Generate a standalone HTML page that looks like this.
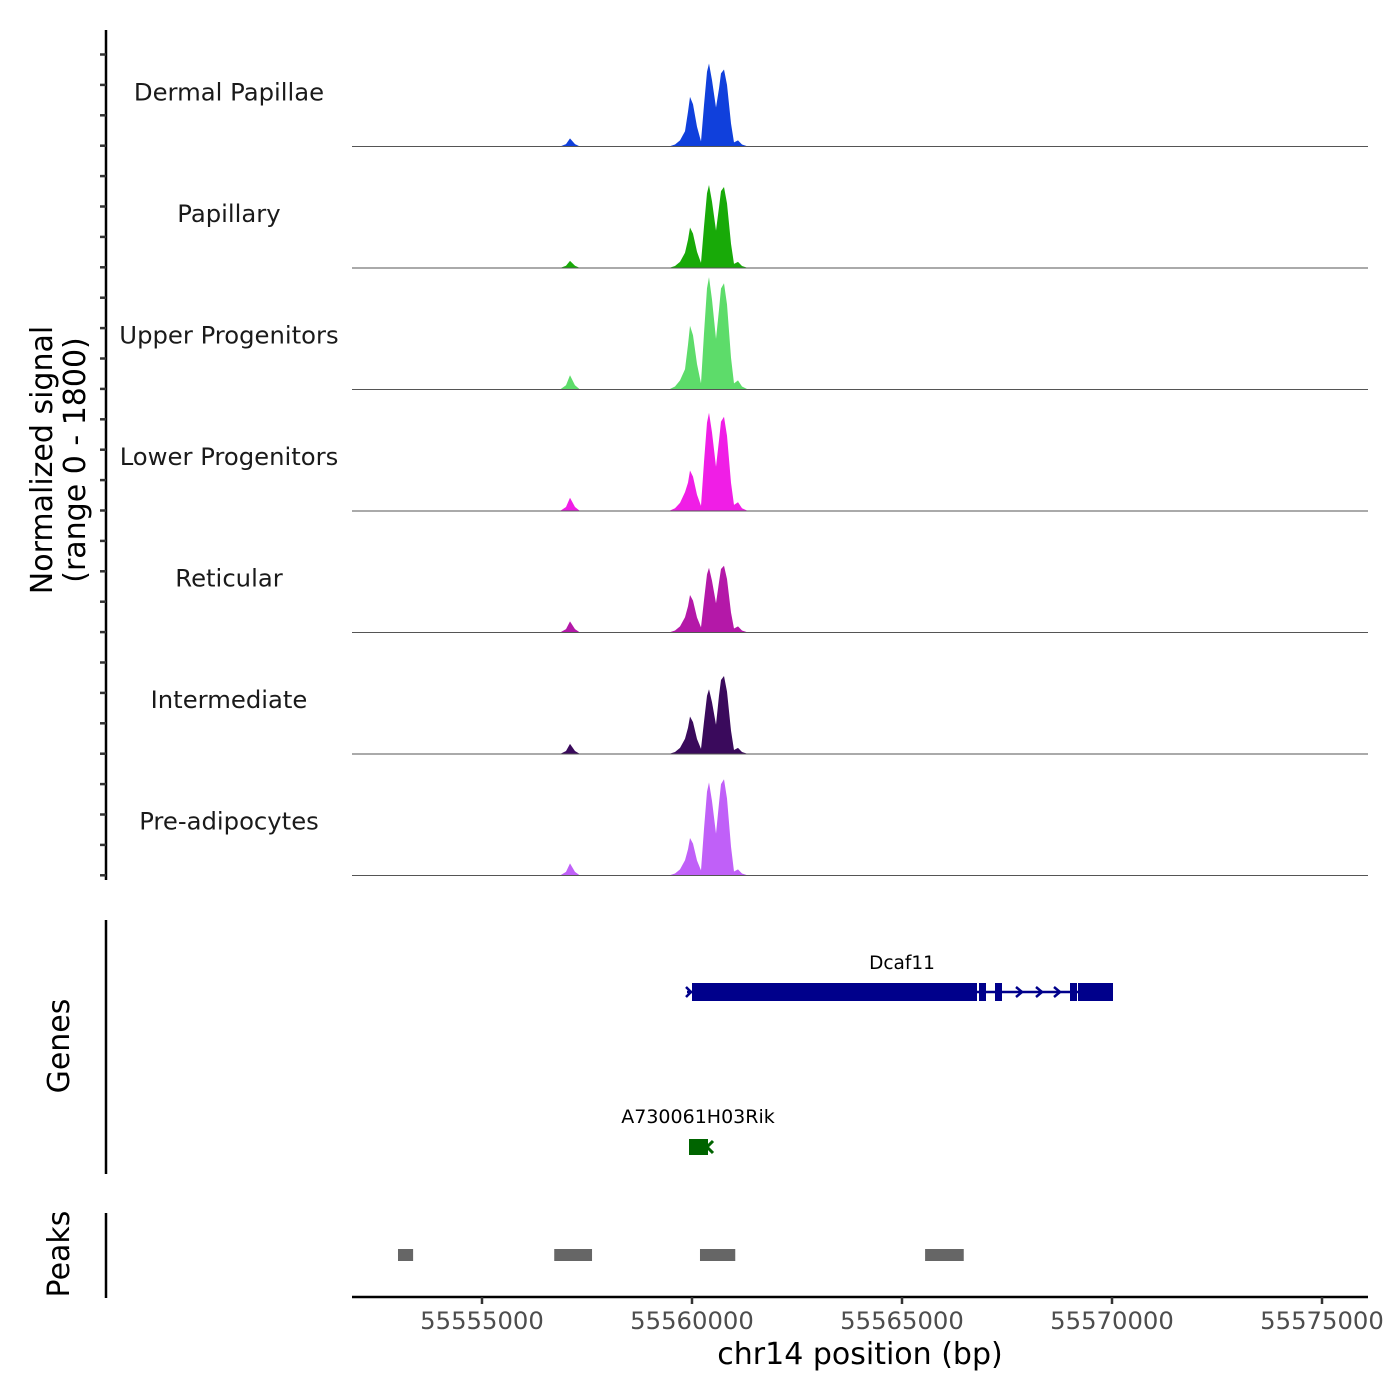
<!DOCTYPE html>
<html><head><meta charset="utf-8"><style>
html,body{margin:0;padding:0;background:#fff;}
svg{display:block;font-family:"DejaVu Sans","Liberation Sans",sans-serif;}
</style></head><body>
<svg id="chart" width="1400" height="1400" viewBox="0 0 1400 1400" xmlns="http://www.w3.org/2000/svg">
<g id="tracks"></g>
<g id="yaxis"></g>
<text transform="translate(52,460) rotate(-90)" text-anchor="middle" font-size="30" fill="#000">Normalized signal</text>
<text transform="translate(85,460) rotate(-90)" text-anchor="middle" font-size="30" fill="#000">(range 0 - 1800)</text>
<line x1="106" y1="920" x2="106" y2="1174" stroke="#000" stroke-width="2.5"/>
<text transform="translate(69,1046) rotate(-90)" text-anchor="middle" font-size="30">Genes</text>
<g id="genes"></g>
<line x1="106" y1="1213" x2="106" y2="1298" stroke="#000" stroke-width="2.5"/>
<text transform="translate(69,1254) rotate(-90)" text-anchor="middle" font-size="30">Peaks</text>
<g id="peaks"></g>
<g id="xaxis"></g>
<text x="860" y="1364" text-anchor="middle" font-size="30">chr14 position (bp)</text>
</svg>
<script>
const regionStart = 55551905;
const regionEnd = 55576095;
const signalMax = 1800;
const trackNames = ["Dermal Papillae","Papillary","Upper Progenitors","Lower Progenitors","Reticular","Intermediate","Pre-adipocytes"];
const trackColors = ["#1040dc","#18aa08","#5ddc6a","#f01ee6","#b418a8","#3a0a5c","#c060f8"];
const positions = [55551905,55556857,55557000,55557095,55557214,55557333,55559450,55559595,55559714,55559833,55559905,55559952,55560024,55560119,55560214,55560286,55560357,55560405,55560476,55560571,55560643,55560690,55560762,55560833,55560928,55561000,55561095,55561190,55561333,55576095];
const sigDermal = [0,0,36,120,36,0,0,30,90,225,515,735,625,294,75,615,1107,1230,984,578,855,1083,1140,912,342,60,90,30,0,0];
const sigPapillary = [0,0,32,105,32,0,0,30,90,225,420,600,510,240,75,615,1107,1230,984,554,900,1140,1200,960,360,60,90,30,0,0];
const sigUpper = [0,0,63,210,63,0,0,45,135,300,662,945,803,378,90,833,1499,1665,1332,750,1181,1496,1575,1260,473,90,135,45,0,0];
const sigLower = [0,0,59,195,59,0,0,40,120,280,420,600,510,240,75,728,1310,1455,1164,655,1046,1325,1395,1116,419,90,130,40,0,0];
const sigReticular = [0,0,50,165,50,0,0,30,90,225,389,555,472,222,75,480,864,960,768,432,743,941,990,792,297,60,90,30,0,0];
const sigIntermediate = [0,0,45,150,45,0,0,30,90,225,389,555,472,222,75,480,864,960,768,432,866,1097,1155,924,347,60,90,30,0,0];
const sigPreadipo = [0,0,54,180,54,0,0,30,90,225,389,555,472,222,75,690,1242,1380,1104,621,1069,1354,1425,1140,428,60,90,30,0,0];
const peakStarts = [55553000,55556720,55560190,55565550];
const peakEnds = [55553360,55557620,55561030,55566470];
const xTicks = [55555000,55560000,55565000,55570000,55575000];

const allSignals=[sigDermal,sigPapillary,sigUpper,sigLower,sigReticular,sigIntermediate,sigPreadipo];
const NS="http://www.w3.org/2000/svg";
const X0=352,X1=1368;
function xs(bp){return X0+(bp-regionStart)/(regionEnd-regionStart)*(X1-X0);}
const trackH=121.5, firstBase=146.5;
function ys(v,i){return firstBase+i*trackH - v/signalMax*trackH;}
function mk(tag,attrs,parent){const e=document.createElementNS(NS,tag);for(const k in attrs)e.setAttribute(k,attrs[k]);parent.appendChild(e);return e;}

const tg=document.getElementById('tracks');
allSignals.forEach((s,i)=>{
  const base=firstBase+i*trackH;
  let d=`M${xs(positions[0])},${base}`;
  positions.forEach((p,j)=>{d+=` L${xs(p).toFixed(1)},${ys(s[j],i).toFixed(1)}`;});
  d+=` L${xs(positions[positions.length-1])},${base} Z`;
  const a=mk('path',{d:d,fill:trackColors[i]},tg);
  
  
  const l=mk('line',{x1:X0,x2:X1,y1:base,y2:base,stroke:'#555','stroke-width':1},tg);
  
  
  const t=mk('text',{x:229,y:base-46,'text-anchor':'middle','font-size':24.3,fill:'#1a1a1a'},tg);
  t.textContent=trackNames[i];
  
  
});

const ya=document.getElementById('yaxis');
mk('line',{x1:106,x2:106,y1:30,y2:880,stroke:'#000','stroke-width':2.5},ya);
for(let k=0;k<28;k++){const y=54.5+k*30.4;
  const tk=mk('line',{x1:100,x2:106,y1:y,y2:y,stroke:'#333','stroke-width':2.5},ya);
  
  
}

const gg=document.getElementById('genes');
const blue='#00008b';
mk('line',{x1:687,x2:1113,y1:992,y2:992,stroke:blue,'stroke-width':2.5},gg);
[[692,977],[979,986],[995,1002],[1070,1077],[1078,1113]].forEach(r=>{
  const e=mk('rect',{x:r[0],y:983,width:r[1]-r[0],height:18,fill:blue},gg);
  
  
});
[1020,1040,1058].forEach(x=>{mk('path',{d:`M${x-4},987 L${x+2},992 L${x-4},997`,stroke:blue,fill:'none','stroke-width':2.5},gg);});
mk('path',{d:'M686,987 L691,992 L686,997',stroke:blue,fill:'none','stroke-width':2.5},gg);
const g1=mk('text',{x:902,y:969,'text-anchor':'middle','font-size':18.5},gg);g1.textContent='Dcaf11';


const green='#006400';
mk('rect',{x:689,y:1139,width:19,height:16,fill:green},gg);
mk('path',{d:'M713,1141 L707,1147 L713,1153',stroke:green,fill:'none','stroke-width':3},gg);
const g2=mk('text',{x:698,y:1123,'text-anchor':'middle','font-size':19},gg);g2.textContent='A730061H03Rik';



const pg=document.getElementById('peaks');
peakStarts.forEach((s,i)=>{
  const r=mk('rect',{x:xs(s),y:1249,width:xs(peakEnds[i])-xs(s),height:12,fill:'#666'},pg);
  
  
});

const xa=document.getElementById('xaxis');
mk('line',{x1:X0,x2:X1,y1:1297,y2:1297,stroke:'#000','stroke-width':2.5},xa);
xTicks.forEach(v=>{
  const x=xs(v);
  mk('line',{x1:x,x2:x,y1:1297,y2:1304,stroke:'#333','stroke-width':2.5},xa);
  const t=mk('text',{x:x,y:1329,'text-anchor':'middle','font-size':24.3,fill:'#4d4d4d'},xa);
  t.textContent=v;
  
  
});
</script>
</body></html>
